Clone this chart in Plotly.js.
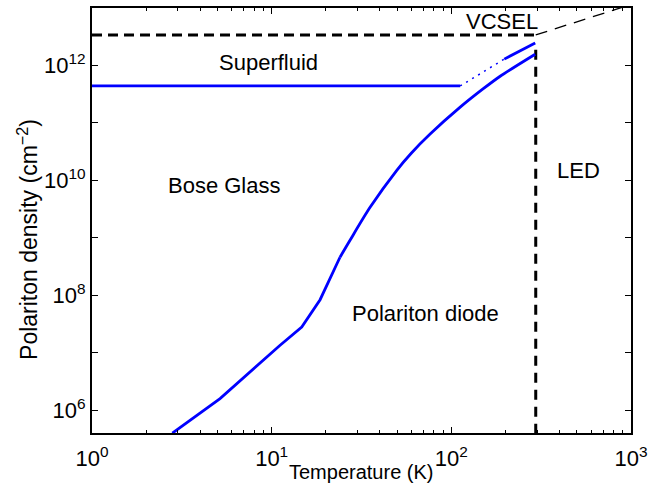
<!DOCTYPE html>
<html>
<head>
<meta charset="utf-8">
<script src="https://cdn.plot.ly/plotly-3.0.1.min.js"></script>
<style>html,body{margin:0;padding:0;background:#fff;}#chart{width:668px;height:491px;}</style>
</head>
<body>
<div id="chart"></div>
<script>
// Main polariton curve (temperature K, density cm^-2)
const mainT = [2.8, 5.16, 11.1, 14.7, 18.6, 24.0, 27.3, 35.3, 49.7, 60, 76.2, 112, 150, 187, 293];
const mainN = [4.0e5, 1.6e6, 1.34e7, 2.8e7, 8.4e7, 4.6e8, 9.1e8, 3.4e9, 1.5e10, 3.0e10, 6.4e10, 1.88e11, 3.9e11, 6.5e11, 1.57e12];
// Superfluid threshold line
const sfT = [1, 112];
const sfN = [4.4e11, 4.4e11];
// Dotted connection
const dotT = [112, 197];
const dotN = [4.4e11, 1.29e12];
// Upper short segment
const upT = [197, 293];
const upN = [1.29e12, 2.45e12];
// VCSEL boundary (horizontal + vertical dashed)
const vcselT = [1, 295];
const vcselN = [3.4e12, 3.4e12];
const ledT = [295, 295];
const ledN = [1e5, 2.45e12];
// Diagonal dashed line
const diagT = [295, 1000];
const diagN = [3.4e12, 1.15e13];
// Region labels
const labelText = ['VCSEL', 'Superfluid', 'Bose Glass', 'LED', 'Polariton diode'];
const labelLogT = [2.28, 0.98, 0.738, 2.706, 1.854];
const labelLogN = [12.76, 12.06, 9.915, 10.18, 7.685];
// Tick labels
const xTickVals = [1, 10, 100, 1000];
const xTickText = ['10<sup>0</sup>', '10<sup>1</sup>', '10<sup>2</sup>', '10<sup>3</sup>'];
const yTickVals = [1e6, 1e7, 1e8, 1e9, 1e10, 1e11, 1e12, 1e13];
const yTickText = ['10<sup>6</sup>', '', '10<sup>8</sup>', '', '10<sup>10</sup>', '', '10<sup>12</sup>', ''];
const xTitle = 'Temperature (K)';
const yTitle = 'Polariton density (cm<sup>\u22122</sup>)';

const blue = '#0000ff';
const split = 5;
const traces = [
  {x: vcselT, y: vcselN, mode: 'lines', line: {color: '#000', width: 3, dash: '10px,6px'}},
  {x: ledT, y: ledN, mode: 'lines', line: {color: '#000', width: 3, dash: '10px,7px'}},
  {x: diagT, y: diagN, mode: 'lines', line: {color: '#000', width: 1.3, dash: '12px,8px'}},
  {x: mainT.slice(0, split + 1), y: mainN.slice(0, split + 1), mode: 'lines', line: {color: blue, width: 2.8}},
  {x: mainT.slice(split), y: mainN.slice(split), mode: 'lines', line: {color: blue, width: 2.8, shape: 'spline', smoothing: 0.8}},
  {x: sfT, y: sfN, mode: 'lines', line: {color: blue, width: 2.8}},
  {x: dotT, y: dotN, mode: 'lines', line: {color: blue, width: 1.5, dash: '2px,5px'}},
  {x: upT, y: upN, mode: 'lines', line: {color: blue, width: 2.8}}
];

const fam = 'Liberation Sans, Arial, Helvetica, sans-serif';
const annFont = {family: fam, size: 22, color: '#000'};
const tickFont = {family: fam, size: 22, color: '#000'};
const xTitleFont = {family: fam, size: 20, color: '#000'};
const yTitleFont = {family: fam, size: 23, color: '#000'};
const annotations = labelText.map((t, i) => ({
  x: labelLogT[i], y: labelLogN[i], xref: 'x', yref: 'y', text: t,
  showarrow: false, xanchor: 'center', yanchor: 'middle', font: annFont
}));
annotations.push({
  x: 0.5, y: -0.092, xref: 'paper', yref: 'paper', text: xTitle,
  showarrow: false, xanchor: 'center', yanchor: 'middle', font: xTitleFont
});
annotations.push({
  x: -0.12, y: 0.455, xref: 'paper', yref: 'paper', text: yTitle, textangle: -90,
  showarrow: false, xanchor: 'center', yanchor: 'middle', font: yTitleFont
});

const layout = {
  width: 668, height: 491,
  margin: {l: 92, r: 37, t: 8, b: 58},
  paper_bgcolor: '#fff', plot_bgcolor: '#fff',
  showlegend: false,
  font: tickFont,
  xaxis: {
    type: 'log', range: [0, 3], autorange: false,
    tickvals: xTickVals, ticktext: xTickText,
    ticks: 'inside', ticklen: 6, tickwidth: 1, tickcolor: '#000',
    minor: {ticks: 'inside', ticklen: 3, dtick: 'D1', tickcolor: '#000', showgrid: false},
    showline: true, linecolor: '#000', linewidth: 2, mirror: 'ticks',
    showgrid: false, zeroline: false, automargin: false,
    ticklabelstandoff: 5,
    tickfont: tickFont
  },
  yaxis: {
    type: 'log', range: [5.605, 13], autorange: false,
    tickvals: yTickVals, ticktext: yTickText,
    ticks: 'inside', ticklen: 6, tickwidth: 1, tickcolor: '#000',
    showline: true, linecolor: '#000', linewidth: 2, mirror: 'ticks',
    showgrid: false, zeroline: false, automargin: false,
    tickfont: tickFont
  },
  annotations: annotations
};

Plotly.newPlot('chart', traces, layout, {staticPlot: true, displayModeBar: false});
</script>
</body>
</html>
